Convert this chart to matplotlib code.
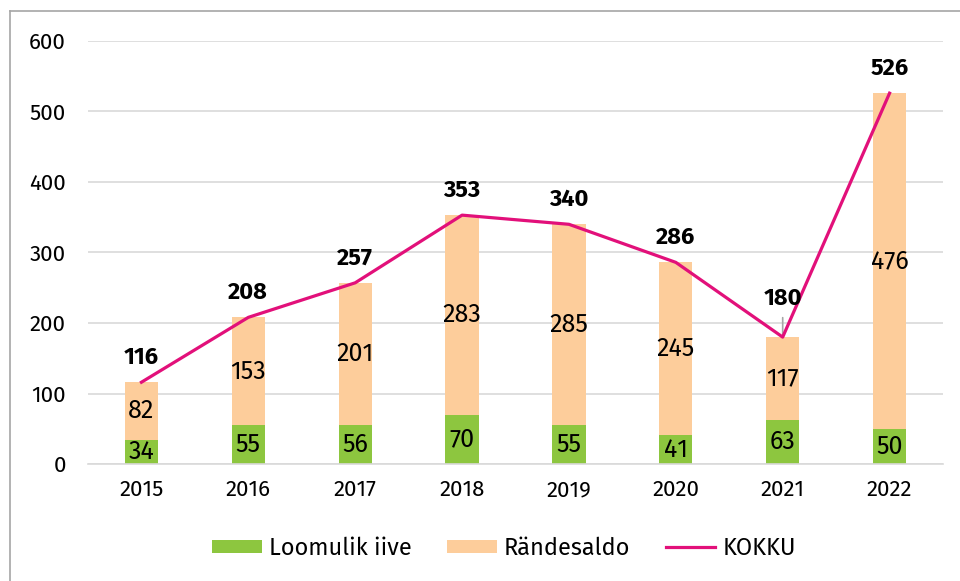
import matplotlib.pyplot as plt
from matplotlib.lines import Line2D
import numpy as np

years = ["2015", "2016", "2017", "2018", "2019", "2020", "2021", "2022"]
loomulik = [34, 55, 56, 70, 55, 41, 63, 50]
rande = [82, 153, 201, 283, 285, 245, 117, 476]
kokku = [116, 208, 257, 353, 340, 286, 180, 526]

green = "#8DC63F"
peach = "#FDCD9B"
magenta = "#E2107A"

plt.rcParams["font.family"] = ["Fira Sans", "Open Sans", "DejaVu Sans"]

fig = plt.figure(figsize=(9.6, 5.81), dpi=100)
ax = fig.add_axes([88 / 960, 1 - 464 / 581, (943 - 88) / 960, (464 - 41) / 581])

x = np.arange(len(years))
w = 0.31
ax.bar(x, loomulik, w, color=green, label="Loomulik iive", zorder=2)
ax.bar(x, rande, w, bottom=loomulik, color=peach, label="Rändesaldo", zorder=2)
ax.plot(x, kokku, color=magenta, lw=2.3, label="KOKKU", zorder=3)

for i in range(len(years)):
    ax.text(x[i], loomulik[i] / 2, str(loomulik[i]), ha="center", va="center",
            fontsize=18, zorder=4)
    ax.text(x[i], loomulik[i] + rande[i] / 2, str(rande[i]), ha="center", va="center",
            fontsize=18, zorder=4)
    off = 18 if i != 6 else 28
    ax.annotate(str(kokku[i]), (x[i], kokku[i]), xytext=(0, off),
                textcoords="offset points", ha="center", va="center",
                fontsize=17, fontweight="bold", zorder=4)

# leader line for the 2021 total
ax.annotate("", (x[6], kokku[6]), xytext=(0, 14), textcoords="offset points",
            arrowprops=dict(arrowstyle="-", color="#A6A6A6", lw=1.2,
                            shrinkA=0, shrinkB=0), zorder=2)

ax.set_xlim(-0.5, len(years) - 0.5)
ax.set_ylim(0, 600)
ax.set_yticks(range(0, 601, 100))
ax.set_xticks(x)
ax.set_xticklabels(years)
ax.tick_params(axis="both", length=0, labelsize=16)
ax.tick_params(axis="x", pad=11)
ax.tick_params(axis="y", pad=16)
ax.grid(axis="y", color="#D9D9D9", lw=1.2, zorder=0)
for s in ["top", "right", "left"]:
    ax.spines[s].set_visible(False)
ax.spines["bottom"].set_color("#D9D9D9")
ax.spines["bottom"].set_linewidth(1.2)

handles, labels = ax.get_legend_handles_labels()
order = [1, 2, 0]
fig.legend([handles[k] for k in order], [labels[k] for k in order], loc="center",
           bbox_to_anchor=(0.525, 1 - 548 / 581), ncol=3, frameon=False, fontsize=17,
           handlelength=2.1, handleheight=0.5, columnspacing=1.5, handletextpad=0.3)

# outer frame (only top and left edges visible)
fig.add_artist(Line2D([10 / 960, 10 / 960], [0, 1 - 11 / 581], transform=fig.transFigure,
                      color="#A6A6A6", lw=1.2))
fig.add_artist(Line2D([10 / 960, 1], [1 - 11 / 581, 1 - 11 / 581], transform=fig.transFigure,
                      color="#A6A6A6", lw=1.2))

fig.savefig("out.png", dpi=100)
